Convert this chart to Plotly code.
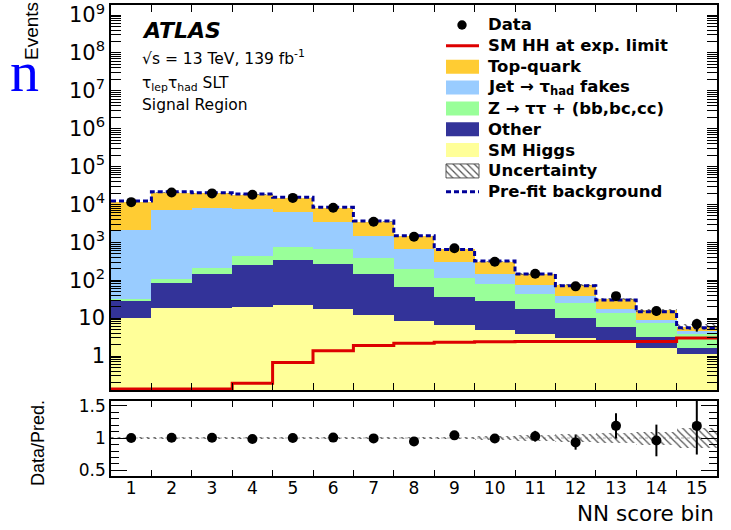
import numpy as np
import plotly.graph_objects as go

# ---------------- data ----------------
bins = list(range(1, 16))
bin_labels = [str(b) for b in bins]

sm_higgs   = [10.2, 18.1, 18.5, 20.0, 21.7, 17.0, 12.1, 8.4, 6.5, 5.0, 3.9, 3.0, 2.2, 1.66, 1.13]
other      = [18.6, 65, 125, 237, 325, 246, 134, 59, 30, 24, 13.5, 6.9, 3.5, 1.54, 0.47]
ztautau_hf = [2.5, 27, 66, 170, 404, 402, 239, 133, 75, 49, 25.6, 15.1, 7.7, 4.4, 2.2]
jet_fakes  = [2080, 6990, 7690, 7270, 5650, 2835, 1115, 453, 196, 65, 32, 14, 3.6, 1.3, 0.86]
top_quark  = [9390, 13500, 11600, 10600, 8500, 4650, 2020, 827, 360, 167, 70, 35, 15, 7.1, 1.24]

data     = [11500, 20700, 19600, 18000, 14900, 8200, 3500, 1400, 695, 308, 149, 69, 38, 15.4, 7.0]
data_err = [107, 144, 140, 134, 122, 91, 59, 37, 26, 18, 12, 8.3, 6.2, 3.9, 2.6]
prefit   = [12300, 21600, 20400, 18800, 15400, 8400, 3650, 1500, 650, 321, 146, 72, 30, 14.8, 5.6]
sm_hh    = [0.135, 0.135, 0.135, 0.19, 0.67, 1.38, 1.9, 2.16, 2.3, 2.38, 2.4, 2.4, 2.4, 2.42, 3.0]
rel_unc  = [0.01, 0.01, 0.01, 0.01, 0.01, 0.012, 0.015, 0.02, 0.02, 0.025, 0.04, 0.055, 0.08, 0.1, 0.16]

decade_exps = list(range(0, 10))
decade_labels = ["1", "10"] + ["10<sup>%d</sup>" % k for k in range(2, 10)]

# ---------------- styling ----------------
W, H = 731, 530
FONT = "DejaVu Sans"
C_TOP, C_JET, C_Z, C_OTH, C_HIG = "#ffcc33", "#99ccff", "#99ff99", "#333399", "#ffff99"
C_RED, C_PRE = "#dd0000", "#000099"
TICKC = "black"

def px(x):
    return x / W

def py(y):
    return 1 - y / H

X0, X1 = px(111), px(717)
MAIN_DOM = [py(390), py(5)]
RAT_DOM = [py(476), py(401)]
YRANGE = [-0.897, 9.264]

x = np.array(bins, dtype=float)
edges = np.arange(0.5, 16.0, 1.0)
components = [
    ("SM Higgs", sm_higgs, C_HIG),
    ("Other", other, C_OTH),
    ("Z -> tautau + HF", ztautau_hf, C_Z),
    ("Jet fakes", jet_fakes, C_JET),
    ("Top-quark", top_quark, C_TOP),
]
vals = np.array([c[1] for c in components], dtype=float)
cum = np.cumsum(vals, axis=0)
bases = np.vstack([np.full(len(bins), 1e-3), cum[:-1]])
total = cum[-1]

fig = go.Figure()

for (name, v, col), b in zip(components, bases):
    fig.add_trace(go.Bar(x=x, y=v, base=b, width=1.0, name=name,
                         marker=dict(color=col, line=dict(width=0)),
                         showlegend=False, xaxis="x", yaxis="y"))

unc = np.array(rel_unc)
hatch = dict(shape="\\", fgcolor="#555555", bgcolor="rgba(0,0,0,0)", size=5, solidity=0.25)
fig.add_trace(go.Bar(x=x, y=2 * unc * total, base=total * (1 - unc), width=1.0,
                     marker=dict(color="rgba(0,0,0,0)", line=dict(width=0), pattern=hatch),
                     showlegend=False, xaxis="x", yaxis="y"))

step_x = edges
fig.add_trace(go.Scatter(x=step_x, y=list(prefit) + [prefit[-1]], mode="lines",
                         line=dict(color=C_PRE, width=3, dash="5px,3px", shape="hv"),
                         showlegend=False, xaxis="x", yaxis="y"))
fig.add_trace(go.Scatter(x=step_x, y=list(sm_hh) + [sm_hh[-1]], mode="lines",
                         line=dict(color=C_RED, width=3, shape="hv"),
                         showlegend=False, xaxis="x", yaxis="y"))
fig.add_trace(go.Scatter(x=x, y=data, mode="markers",
                         marker=dict(color="black", size=10),
                         error_y=dict(type="data", array=data_err, color="black", thickness=2, width=0),
                         showlegend=False, xaxis="x", yaxis="y"))

# ratio panel
ratio = np.array(data) / total
ratio_err = np.array(data_err) / total
fig.add_trace(go.Bar(x=x, y=2 * unc, base=1 - unc, width=1.0,
                     marker=dict(color="rgba(0,0,0,0)", line=dict(width=0), pattern=hatch),
                     showlegend=False, xaxis="x2", yaxis="y2"))
fig.add_trace(go.Scatter(x=x, y=ratio, mode="markers",
                         marker=dict(color="black", size=10),
                         error_y=dict(type="data", array=ratio_err, color="black", thickness=2, width=0),
                         showlegend=False, xaxis="x2", yaxis="y2"))

# hatched box for legend
fig.add_trace(go.Bar(x=[0.5], y=[1], base=[0], width=[1],
                     marker=dict(color="rgba(0,0,0,0)", line=dict(width=0), pattern=hatch),
                     showlegend=False, xaxis="x3", yaxis="y3", hoverinfo="skip"))

axis_common = dict(showline=True, linecolor="black", linewidth=1.5, mirror="allticks",
                   showgrid=False, zeroline=False, tickcolor=TICKC, automargin=False,
                   ticklabeloverflow="allow")

# log-axis ticks: every 1..9 x 10^k (short), labels only on decades
all_tick_vals, all_tick_text = [], []
for k in range(-1, 10):
    for m in range(1, 10):
        v = m * 10.0 ** k
        if YRANGE[0] <= np.log10(v) <= YRANGE[1]:
            all_tick_vals.append(v)
            all_tick_text.append(decade_labels[k] if (m == 1 and k >= 0) else "")

fig.update_layout(
    template="none",
    width=W, height=H, margin=dict(l=0, r=0, t=0, b=0, autoexpand=False),
    paper_bgcolor="white", plot_bgcolor="white",
    barmode="overlay", bargap=0, showlegend=False,
    font=dict(family=FONT, color="black"),
    xaxis=dict(domain=[X0, X1], range=[0.5, 15.5], anchor="y",
               tickmode="array", tickvals=list(edges[1:-1]), showticklabels=False,
               ticks="inside", ticklen=7, tickwidth=1,
               **axis_common),
    yaxis=dict(domain=MAIN_DOM, type="log", range=YRANGE, anchor="x",
               tickmode="array", tickvals=all_tick_vals, ticktext=all_tick_text,
               ticks="inside", ticklen=10, tickwidth=1,
               tickfont=dict(family=FONT, size=21, color="black"),
               **axis_common),
    yaxis4=dict(type="log", range=YRANGE, overlaying="y", anchor="x", side="left",
                tickmode="array", tickvals=[10.0 ** k for k in decade_exps],
                showticklabels=False, ticks="inside", ticklen=20, tickwidth=1,
                **axis_common),
    xaxis2=dict(domain=[X0, X1], range=[0.5, 15.5], anchor="y2", matches="x",
                tickmode="array", tickvals=bins, ticktext=bin_labels,
                ticks="inside", ticklen=0, ticklabelstandoff=-4,
                minor=dict(tickmode="array", tickvals=list(edges[1:-1]), ticks="inside",
                           ticklen=6, tickcolor=TICKC, tickwidth=1),
                tickfont=dict(family=FONT, size=17, color="black"),
                **axis_common),
    yaxis2=dict(domain=RAT_DOM, range=[0.415, 1.57], anchor="x2",
                tickmode="array", tickvals=[0.5, 1, 1.5], ticktext=["0.5", "1", "1.5"],
                ticks="inside", ticklen=16, tickwidth=1,
                minor=dict(tickmode="array", tickvals=[0.6, 0.7, 0.8, 0.9, 1.1, 1.2, 1.3, 1.4],
                           ticks="inside", ticklen=8, tickcolor=TICKC, tickwidth=1),
                tickfont=dict(family=FONT, size=17, color="black"),
                **axis_common),
    xaxis3=dict(domain=[px(446), px(479)], range=[0, 1], visible=False, anchor="y3",
                fixedrange=True, automargin=False),
    yaxis3=dict(domain=[py(178), py(164)], range=[0, 1], visible=False, anchor="x3",
                fixedrange=True, automargin=False),
)

# reference line at unity in the ratio panel
fig.add_shape(type="line", xref="x2", yref="y2", x0=0.5, x1=15.5, y0=1, y1=1,
              line=dict(color="#aaaaaa", width=1, dash="dot"), layer="below")

# ---------------- texts ----------------
def ann(text, xp, yp, size, xanchor="left", family=FONT, color="black", angle=0):
    fig.add_annotation(text=text, x=px(xp), y=py(yp), xref="paper", yref="paper",
                       xanchor=xanchor, yanchor="middle", showarrow=False, textangle=angle,
                       font=dict(family=family, size=size, color=color))

ann("<b><i>ATLAS</i></b>", 140, 31, 22)
ann("√s = 13 TeV, 139 fb<sup>-1</sup>", 140, 58, 15.5)
ann("τ<sub>lep</sub>τ<sub>had</sub> SLT", 140, 84, 15.5)
ann("Signal Region", 140, 105, 15.5)
ann("Events", 32, 31, 19, xanchor="center", family="Liberation Sans", angle=-90)
ann("Data/Pred.", 38, 443, 18, xanchor="center", family="Liberation Sans", angle=-90)
ann("NN score bin", 716, 513, 21.5, xanchor="right")
ann("n", 24, 72, 58, xanchor="center", family="Liberation Serif", color="#0000ff")

# ---------------- manual legend ----------------
legend_rows = ["Data", "SM HH at exp. limit", "Top-quark", "Jet → τ<sub>had</sub> fakes",
               "Z → ττ + (bb,bc,cc)", "Other", "SM Higgs", "Uncertainty", "Pre-fit background"]
row_y = [25 + 20.85 * i for i in range(len(legend_rows))]
sx0, sx1, tx = 446, 479, 486
for label, yy in zip(legend_rows, row_y):
    ann("<b>" + label + "</b>", tx, yy, 16.5)

fig.add_shape(type="circle", xref="paper", yref="paper",
              x0=px(462 - 4.7), x1=px(462 + 4.7), y0=py(row_y[0] + 4.7), y1=py(row_y[0] - 4.7),
              fillcolor="black", line=dict(width=0))
fig.add_shape(type="line", xref="paper", yref="paper", x0=px(sx0), x1=px(sx1),
              y0=py(row_y[1]), y1=py(row_y[1]), line=dict(color=C_RED, width=3))
for col, yy in zip([C_TOP, C_JET, C_Z, C_OTH, C_HIG], row_y[2:7]):
    fig.add_shape(type="rect", xref="paper", yref="paper", x0=px(sx0), x1=px(sx1),
                  y0=py(yy + 7), y1=py(yy - 7), fillcolor=col, line=dict(width=0))
fig.add_shape(type="rect", xref="paper", yref="paper", x0=px(sx0), x1=px(sx1),
              y0=py(row_y[7] + 7), y1=py(row_y[7] - 7), line=dict(color="#555555", width=1))
fig.add_shape(type="line", xref="paper", yref="paper", x0=px(sx0), x1=px(sx1),
              y0=py(row_y[8]), y1=py(row_y[8]), line=dict(color=C_PRE, width=3, dash="5px,3px"))

fig.write_html("out.html")
